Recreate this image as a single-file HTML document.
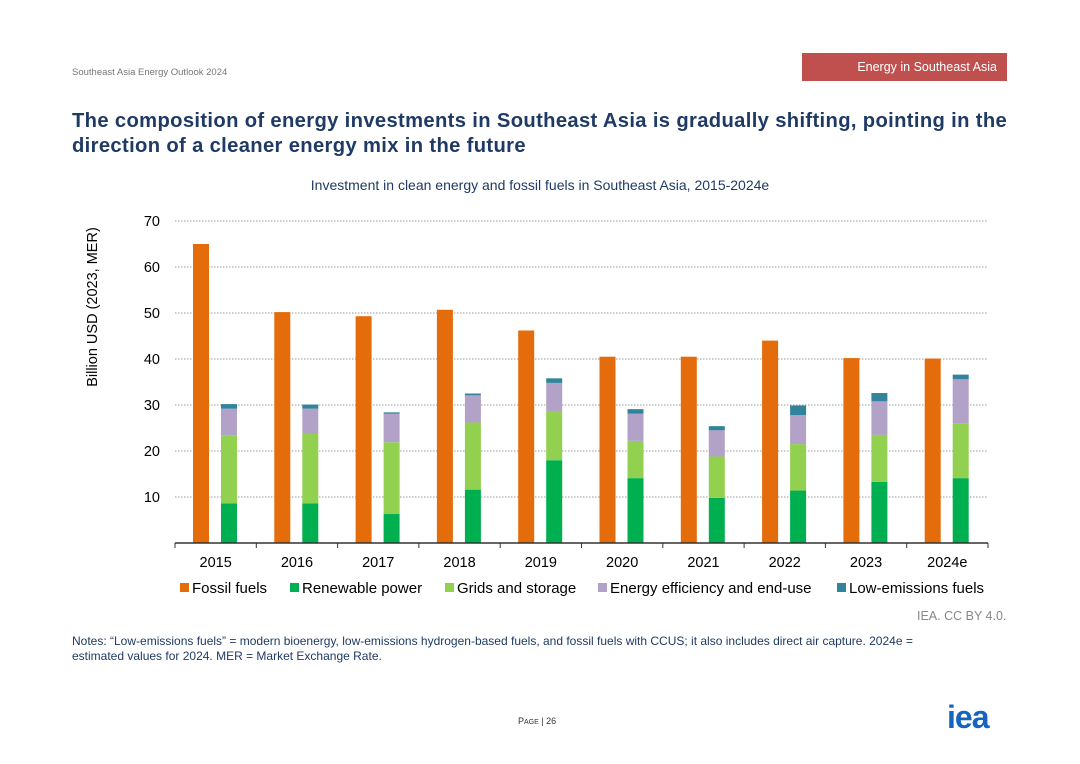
<!DOCTYPE html>
<html><head><meta charset="utf-8"><style>
body{margin:0;width:1080px;height:764px;background:#fff;font-family:"Liberation Sans",sans-serif;position:relative;overflow:hidden}
.abs{position:absolute}
</style></head><body>
<div class="abs" style="left:72px;top:67px;font-size:9.5px;color:#777">Southeast Asia Energy Outlook 2024</div>
<div class="abs" style="left:802px;top:53px;width:205px;height:28px;background:#C0504D;color:#fff;font-size:12.5px;line-height:28px;text-align:right;box-sizing:border-box;padding-right:10px">Energy in Southeast Asia</div>
<div class="abs" style="left:72px;top:109px;width:960px;font-size:20.2px;font-weight:bold;color:#1F3A64;line-height:25px;letter-spacing:0.35px">The composition of energy investments in Southeast Asia is gradually shifting, pointing in the direction of a cleaner energy mix in the future</div>
<svg class="abs" style="left:0;top:0" width="1080" height="764" id="chart">
<text x="540" y="190" text-anchor="middle" font-size="14" fill="#1F3A64">Investment in clean energy and fossil fuels in Southeast Asia, 2015-2024e</text>
<text transform="translate(97,307) rotate(-90)" text-anchor="middle" font-size="14.5" fill="#000">Billion USD (2023, MER)</text>
</svg>
<div class="abs" style="left:917px;top:609px;font-size:12.5px;color:#888">IEA. CC BY 4.0.</div>
<div class="abs" style="left:72px;top:634px;width:880px;font-size:12px;color:#1F3A64;line-height:15px">Notes: “Low-emissions fuels” = modern bioenergy, low-emissions hydrogen-based fuels, and fossil fuels with CCUS; it also includes direct air capture. 2024e = estimated values for 2024. MER = Market Exchange Rate.</div>
<div class="abs" style="left:518px;top:716px;font-size:9px;color:#333">P<span style="font-size:7px">AGE</span> | 26</div>
<div class="abs" style="left:947px;top:699px;font-size:32px;font-weight:bold;color:#1565C0;letter-spacing:-1px">iea</div>
<script>
const categories=["2015","2016","2017","2018","2019","2020","2021","2022","2023","2024e"];
const fossil=[65,50.2,49.3,50.7,46.2,40.5,40.5,44.0,40.2,40.1];
const renewable=[8.6,8.6,6.3,11.6,18.0,14.1,9.8,11.4,13.3,14.1];
const grids=[14.8,15.2,15.6,14.6,10.7,8.1,9.0,10.1,10.2,11.9];
const efficiency=[5.8,5.4,6.2,5.9,6.1,5.9,5.7,6.3,7.3,9.6];
const lowEmissions=[1.0,0.9,0.3,0.4,1.0,1.0,0.9,2.1,1.8,1.0];
const yTicks=[10,20,30,40,50,60,70];
const seriesNames=["Fossil fuels","Renewable power","Grids and storage","Energy efficiency and end-use","Low-emissions fuels"];
const colors=["#E46C0A","#00B050","#92D050","#B3A2C7","#31849B"];
const NS="http://www.w3.org/2000/svg";
const svg=document.getElementById('chart');
const X0=175,X1=988,Y0=543,YMAX=70,YTOP=221;
const cw=(X1-X0)/categories.length;
const y=v=>Y0-v*(Y0-YTOP)/YMAX;
function mk(t,a){const e=document.createElementNS(NS,t);for(const k in a)e.setAttribute(k,a[k]);svg.appendChild(e);return e;}
yTicks.forEach(v=>{
 const l=mk('line',{x1:X0,x2:X1,y1:y(v),y2:y(v),stroke:'#999','stroke-dasharray':'1.5 1.5','stroke-width':1});
 
 
 const t=mk('text',{x:160,y:y(v)+5,'text-anchor':'end','font-size':14.5,fill:'#000'});t.textContent=v;
 
 
});
categories.forEach((c,i)=>{
 const cx=X0+i*cw;
 const f=mk('rect',{x:cx+18,y:y(fossil[i]),width:16,height:Y0-y(fossil[i]),fill:colors[0]});
 
 
 let base=0;
 [renewable,grids,efficiency,lowEmissions].forEach((s,k)=>{
  const r=mk('rect',{x:cx+46,y:y(base+s[i]),width:16,height:y(base)-y(base+s[i]),fill:colors[k+1]});
  
  
  base+=s[i];
 });
 const t=mk('text',{x:cx+cw/2,y:567,'text-anchor':'middle','font-size':14.5,fill:'#000'});t.textContent=c;
 
 
 const tk=mk('line',{x1:cx,x2:cx,y1:Y0,y2:Y0+5,stroke:'#333'});
 
 
});
const ltk=mk('line',{x1:X1,x2:X1,y1:Y0,y2:Y0+5,stroke:'#333'});


const ax=mk('line',{x1:X0,x2:X1,y1:Y0,y2:Y0,stroke:'#333','stroke-width':1.5});


const lx=[180,290,445,598,837];
seriesNames.forEach((n,i)=>{
 const g=mk('g',{});
 
 
 const r=document.createElementNS(NS,'rect');r.setAttribute('x',lx[i]);r.setAttribute('y',583);r.setAttribute('width',9);r.setAttribute('height',9);r.setAttribute('fill',colors[i]);g.appendChild(r);
 const t=document.createElementNS(NS,'text');t.setAttribute('x',lx[i]+12);t.setAttribute('y',593);t.setAttribute('font-size',15);t.textContent=n;g.appendChild(t);
});
</script>
</body></html>
